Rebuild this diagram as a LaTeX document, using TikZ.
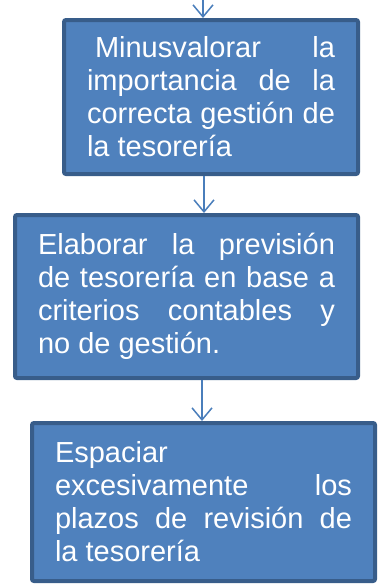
\documentclass[tikz,border=0pt]{standalone}
\usepackage{fontspec}
\setmainfont{Liberation Sans}
\usetikzlibrary{arrows.meta}

\definecolor{cajafondo}{HTML}{4F81BD}
\definecolor{cajaborde}{HTML}{385D8A}
\definecolor{flechacolor}{HTML}{4A7EBB}

\tikzset{
  caja/.style={draw=cajaborde, fill=cajafondo, line width=4pt, rounded corners=2pt,
    text=white, align=justify, inner sep=0pt,
    font=\fontsize{29}{33}\selectfont},
  flecha/.style={draw=flechacolor, line width=1.5pt,
    -{Straight Barb[length=12pt,width=20pt,line width=1.5pt]}}
}

\begin{document}
\begin{tikzpicture}[x=1pt,y=1pt]
                \useasboundingbox (0,0) rectangle (381,-587);

                \node (minus) at (211,-97) [caja, minimum width=294pt, minimum height=154pt, text width=248pt]
                  {\hspace*{8pt}Minusvalorar la\linebreak importancia de la\linebreak correcta gestión de\linebreak la tesorería};
                \node (elaborar) at (186.5,-296.5) [caja, minimum width=343pt, minimum height=163pt, text width=297pt]
                  {Elaborar la previsión\linebreak de tesorería en base a\linebreak criterios contables y\linebreak no de gestión.};
                \node (espaciar) at (203.5,-502) [caja, minimum width=343pt, minimum height=158pt, text width=297pt]
                  {Espaciar\newline excesivamente los\linebreak plazos de revisión de\linebreak la tesorería};

                \coordinate (entrada) at (203,0);
                \draw[flecha] (entrada) -- (entrada |- minus.north);
                \draw[flecha] ([xshift=-7pt]minus.south) -- ([xshift=-7pt]minus.south |- elaborar.north);
                \draw[flecha] ([xshift=15.5pt]elaborar.south) -- ([xshift=15.5pt]elaborar.south |- espaciar.north);
            \end{tikzpicture}
\end{document}
